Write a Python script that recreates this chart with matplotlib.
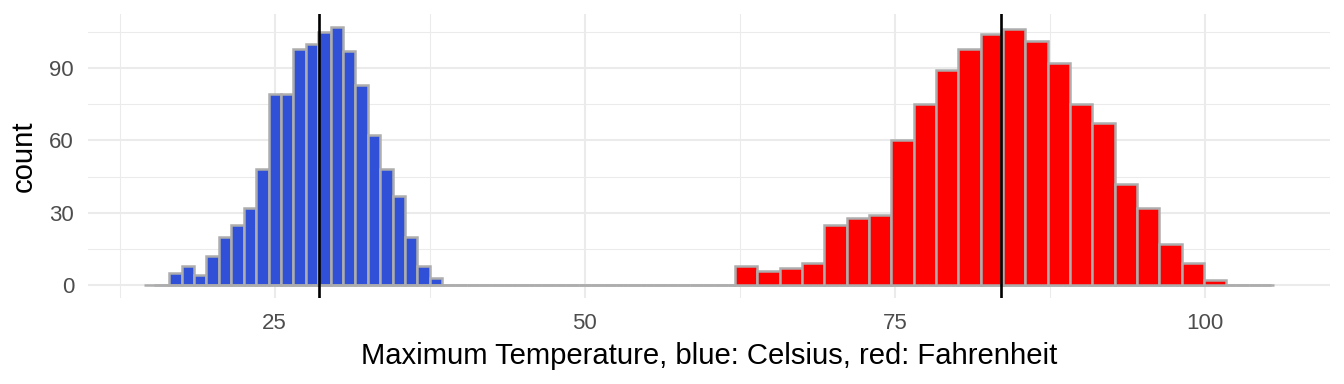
import numpy as np
import matplotlib.pyplot as plt
from matplotlib.ticker import MultipleLocator

plt.rcParams['font.family'] = ['Liberation Sans', 'DejaVu Sans']

# Celsius histogram, binwidth 1, bins centred on integers
celsius_width = 1.0
celsius_centers = np.arange(15, 106) * celsius_width
celsius_first = 17  # first non-empty bin centre
celsius_counts_nz = [5, 8, 4, 12, 20, 25, 32, 48, 79, 79, 98, 100,
                     105, 107, 97, 83, 62, 48, 37, 20, 8, 3]
celsius_mean = 28.6

# Fahrenheit histogram, binwidth 1.8, bins centred on multiples of 1.8
fahr_width = 1.8
fahr_centers = np.arange(9, 59) * fahr_width
fahr_first_k = 35  # first non-empty bin is 35 * 1.8 = 63.0
fahr_counts_nz = [8, 6, 7, 9, 25, 28, 29, 60, 75, 89, 98, 104,
                  106, 101, 92, 75, 67, 42, 32, 17, 9, 2]
fahr_mean = 83.5

celsius_counts = np.zeros(len(celsius_centers))
i0 = int(celsius_first - 15)
celsius_counts[i0:i0 + len(celsius_counts_nz)] = celsius_counts_nz

fahr_counts = np.zeros(len(fahr_centers))
j0 = fahr_first_k - 9
fahr_counts[j0:j0 + len(fahr_counts_nz)] = fahr_counts_nz

W, H = 1344, 384
fig = plt.figure(figsize=(W / 100, H / 100), dpi=100)
ax = fig.add_axes([88 / W, (H - 298) / H, (1330 - 88) / W, (298 - 14) / H])

edge = '#ADADAD'
ax.bar(celsius_centers, celsius_counts, width=celsius_width, color='#3050D8',
       edgecolor=edge, linewidth=1.8, zorder=2)
ax.bar(fahr_centers, fahr_counts, width=fahr_width, color='#FF0000',
       edgecolor=edge, linewidth=1.8, zorder=2)
ax.axvline(celsius_mean, color='black', linewidth=1.9, zorder=3)
ax.axvline(fahr_mean, color='black', linewidth=1.9, zorder=3)

lo, hi = 14.5, 105.5
pad = (hi - lo) * 0.05
ax.set_xlim(lo - pad, hi + pad)
ax.set_ylim(-107 * 0.05, 107 * 1.05)

ax.xaxis.set_major_locator(MultipleLocator(25))
ax.xaxis.set_minor_locator(MultipleLocator(12.5))
ax.yaxis.set_major_locator(MultipleLocator(30))
ax.yaxis.set_minor_locator(MultipleLocator(15))

ax.grid(which='major', color='#EBEBEB', linewidth=1.45, zorder=0)
ax.grid(which='minor', color='#EBEBEB', linewidth=0.75, zorder=0)
ax.set_axisbelow(True)
for s in ax.spines.values():
    s.set_visible(False)
ax.tick_params(which='both', length=0)
ax.tick_params(axis='x', labelsize=16, labelcolor='#4D4D4D', pad=11)
ax.tick_params(axis='y', labelsize=16, labelcolor='#4D4D4D', pad=10)

fig.text(709 / W, 20 / H, 'Maximum Temperature, blue: Celsius, red: Fahrenheit',
         ha='center', va='baseline', fontsize=21.1, color='black')
fig.text(24 / W, (H - 156) / H, 'count', rotation=90,
         ha='center', va='center', fontsize=21.1, color='black')

fig.savefig('out.png', dpi=100)
